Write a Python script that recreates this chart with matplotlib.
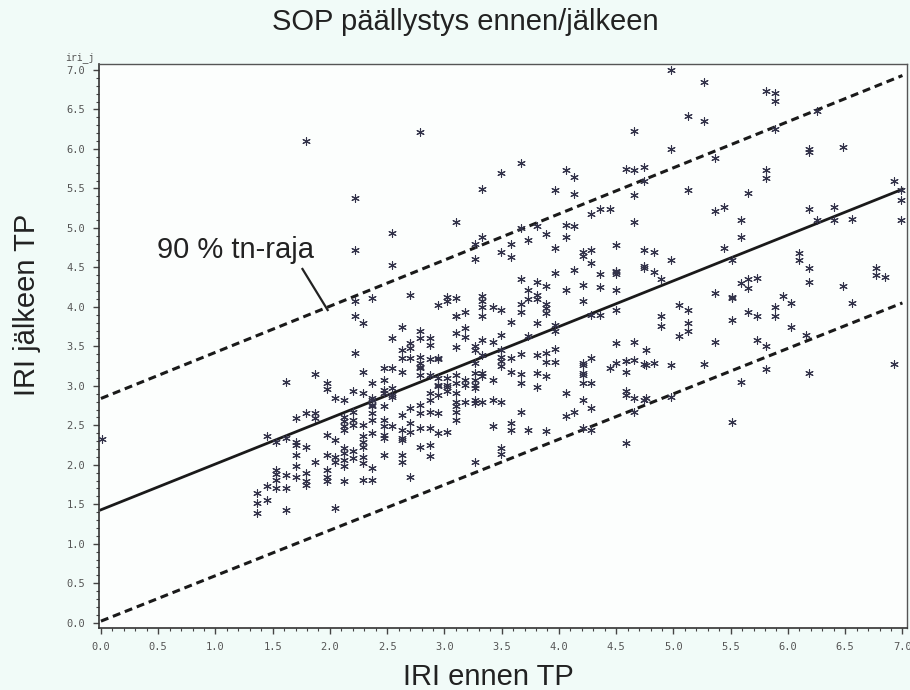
import numpy as np
import matplotlib.pyplot as plt
from matplotlib.ticker import MultipleLocator, FormatStrFormatter

# IRI before (columns of x) and the IRI after values in each column
ennen_cols = [0.01, 1.36, 1.45, 1.53, 1.62, 1.70, 1.79, 1.87, 1.97, 2.04,
              2.12, 2.20, 2.22, 2.29, 2.37, 2.47, 2.54, 2.63, 2.70, 2.79,
              2.87, 2.94, 3.02, 3.10, 3.18, 3.27, 3.33, 3.42, 3.49, 3.58,
              3.67, 3.73, 3.81, 3.89, 3.97, 4.06, 4.13, 4.21, 4.28, 4.36,
              4.45, 4.50, 4.59, 4.66, 4.74, 4.76, 4.83, 4.89, 4.98, 5.05,
              5.13, 5.27, 5.36, 5.44, 5.51, 5.59, 5.65, 5.73, 5.81, 5.89,
              5.96, 6.03, 6.10, 6.16, 6.18, 6.25, 6.40, 6.48, 6.56, 6.77,
              6.85, 6.93, 6.99]
jalkeen_cols = [
    [2.33],
    [1.64, 1.52, 1.39],
    [2.37, 1.73, 1.56],
    [1.94, 1.88, 1.81, 1.71, 2.29],
    [3.05, 2.34, 1.87, 1.71, 1.43],
    [2.59, 2.29, 2.25, 2.13, 1.99, 1.85],
    [6.10, 2.65, 2.23, 1.89, 1.79, 1.75],
    [3.15, 2.65, 2.59, 2.04],
    [3.03, 2.96, 2.38, 2.13, 1.94, 1.85, 1.79],
    [2.85, 2.32, 2.10, 2.04, 1.45],
    [2.82, 2.61, 2.55, 2.49, 2.44, 2.21, 2.15, 2.06, 1.98, 1.79],
    [2.93, 2.67, 2.57, 2.51, 2.18, 2.08],
    [5.38, 4.72, 4.07, 3.89, 3.42],
    [3.79, 3.17, 2.91, 2.51, 2.36, 2.29, 2.23, 2.10, 2.02, 1.81],
    [4.11, 3.04, 2.84, 2.82, 2.76, 2.74, 2.65, 2.57, 2.40, 1.96, 1.81],
    [3.22, 3.08, 2.95, 2.91, 2.74, 2.57, 2.49, 2.38, 2.34, 2.13],
    [4.94, 4.53, 3.60, 3.22, 2.97, 2.89, 2.86, 2.49],
    [3.74, 3.46, 3.35, 3.18, 2.63, 2.44, 2.34, 2.32, 2.13, 2.04],
    [4.15, 3.54, 3.48, 3.35, 2.72, 2.53, 2.42, 1.85],
    [6.21, 3.69, 3.60, 3.37, 3.29, 3.24, 3.22, 3.14, 2.76, 2.65, 2.46, 2.23],
    [3.60, 3.52, 3.34, 3.14, 2.91, 2.82, 2.67, 2.46, 2.25, 2.11],
    [4.03, 3.35, 3.34, 3.10, 3.01, 3.00, 2.89, 2.65, 2.40],
    [4.13, 4.07, 3.10, 3.01, 2.99, 2.93, 2.42],
    [5.07, 4.11, 3.89, 3.88, 3.67, 3.49, 3.14, 3.03, 2.91, 2.80, 2.75, 2.67, 2.57],
    [3.94, 3.73, 3.62, 3.08, 3.01, 2.79],
    [4.80, 4.61, 3.50, 3.45, 3.29, 3.16, 3.08, 3.01, 2.97, 2.82, 2.78, 2.03],
    [5.49, 4.88, 4.14, 4.07, 4.00, 3.89, 3.58, 3.39, 3.16, 3.12, 2.79],
    [4.00, 3.55, 3.08, 2.82, 2.49],
    [5.69, 4.70, 3.96, 3.64, 3.46, 3.37, 3.31, 3.25, 2.80, 2.21, 2.14],
    [4.80, 4.63, 3.81, 3.35, 3.17, 2.53, 2.44],
    [5.82, 5.00, 4.35, 4.04, 3.93, 3.40, 3.15, 3.03, 2.67],
    [4.85, 4.21, 4.10, 3.63, 2.44],
    [5.03, 4.32, 4.15, 4.10, 3.80, 3.39, 3.16, 2.98],
    [4.92, 4.26, 4.04, 3.98, 3.92, 3.41, 3.30, 3.12, 2.43],
    [5.48, 4.75, 4.43, 3.77, 3.69, 3.47, 3.30],
    [5.73, 5.04, 4.89, 4.21, 2.91, 2.62],
    [5.65, 5.43, 5.02, 4.47, 2.67],
    [4.70, 4.64, 4.28, 4.07, 3.29, 3.27, 3.16, 3.14, 3.03, 2.82, 2.46],
    [5.18, 4.72, 4.55, 3.90, 3.35, 3.03, 2.72, 2.44],
    [5.24, 4.42, 4.25, 3.90],
    [5.24, 3.22],
    [4.78, 4.45, 4.44, 4.42, 4.22, 3.96, 3.54, 3.29],
    [5.74, 3.32, 3.31, 3.18, 2.93, 2.89, 2.27],
    [6.23, 5.73, 5.42, 5.08, 3.56, 3.33, 2.85, 2.67],
    [5.77, 5.59, 4.72, 4.52, 4.49, 3.28, 2.82],
    [3.46, 3.27, 2.85],
    [4.69, 4.44, 3.29],
    [4.35, 3.89, 3.76],
    [7.00, 6.00, 4.59, 3.27, 2.86],
    [4.03, 3.63],
    [6.42, 5.48, 3.96, 3.80, 3.69],
    [6.85, 6.35, 3.28],
    [5.89, 5.21, 4.18, 3.56],
    [5.27, 4.74],
    [4.59, 4.13, 4.11, 3.84, 2.54],
    [5.10, 4.89, 4.30, 3.05],
    [5.44, 4.35, 4.24, 3.93],
    [4.36, 3.89, 3.58],
    [6.74, 5.73, 5.63, 3.51, 3.21],
    [6.71, 6.61, 6.25, 4.00, 3.89],
    [4.14],
    [4.05, 3.74],
    [4.68, 4.59],
    [3.65],
    [6.00, 5.96, 5.24, 4.49, 4.31, 3.16],
    [6.48, 5.10],
    [5.26, 5.10],
    [6.03, 4.27],
    [5.11, 4.05],
    [4.49, 4.41],
    [4.38],
    [5.59, 3.28],
    [5.48, 5.35, 5.10],
]

# regression line and 90 % limits
line_x = [0.0, 7.0]
fit_y = [1.43, 5.49]
upper_y = [2.84, 6.93]
lower_y = [0.02, 4.05]

iri_ennen = np.concatenate([[x] * len(ys) for x, ys in zip(ennen_cols, jalkeen_cols)])
iri_jalkeen = np.concatenate(jalkeen_cols)

fig = plt.figure(figsize=(9.1, 6.9), dpi=100, facecolor='#f1fbf8')
ax = fig.add_axes([99 / 910, 1 - 628 / 690, 808 / 910, 564 / 690])
ax.set_facecolor('#fcfefd')

ax.scatter(iri_ennen, iri_jalkeen, marker=(6, 2, 0), s=30, linewidths=0.8,
           color='#33334a', zorder=3)
ax.plot(line_x, fit_y, color='#1a1a1a', lw=2.0, zorder=2)
ax.plot(line_x, upper_y, color='#1a1a1a', lw=2.2, ls=(0, (2.6, 1.6)), zorder=2)
ax.plot(line_x, lower_y, color='#1a1a1a', lw=2.2, ls=(0, (2.6, 1.6)), zorder=2)

ax.annotate('90 % tn-raja', xy=(1.98, 3.96), xytext=(0.49, 4.62),
            fontsize=21, family='Liberation Sans', color='#222222',
            ha='left', va='baseline')
ax.plot([1.76, 1.98], [4.48, 3.96], color='#222222', lw=1.6, zorder=2)

ax.set_xlim(-0.017, 7.04)
ax.set_ylim(-0.067, 7.076)
ax.xaxis.set_major_locator(MultipleLocator(0.5))
ax.xaxis.set_minor_locator(MultipleLocator(0.1))
ax.yaxis.set_major_locator(MultipleLocator(0.5))
ax.yaxis.set_minor_locator(MultipleLocator(0.1))
ax.xaxis.set_major_formatter(FormatStrFormatter('%.1f'))
ax.yaxis.set_major_formatter(FormatStrFormatter('%.1f'))
ax.tick_params(which='major', direction='out', length=4, width=1, color='#444444',
               labelsize=7.5, labelcolor='#555555', pad=6)
ax.tick_params(which='minor', direction='out', length=2.5, width=0.8, color='#444444')
for lab in ax.get_xticklabels() + ax.get_yticklabels():
    lab.set_family('DejaVu Sans Mono')

for side in ['left', 'bottom']:
    ax.spines[side].set_color('#333333')
    ax.spines[side].set_linewidth(1.2)
for side in ['top', 'right']:
    ax.spines[side].set_color('#555555')
    ax.spines[side].set_linewidth(1.0)

ax.text(-0.005, 1.002, 'iri_j', transform=ax.transAxes, ha='right', va='bottom',
        fontsize=7, family='DejaVu Sans Mono', color='#555555')

fig.text(465 / 910, 1 - 22 / 690, 'SOP päällystys ennen/jälkeen', ha='center',
         va='center', fontsize=21, family='Liberation Sans', color='#222222')
fig.text(488 / 910, 5 / 690, 'IRI ennen TP', ha='center', va='baseline',
         fontsize=21, family='Liberation Sans', color='#222222')
fig.text(27 / 910, 1 - 305 / 690, 'IRI jälkeen TP', ha='center', va='center',
         rotation=90, fontsize=21, family='Liberation Sans', color='#222222')

fig.savefig('out.png', dpi=100, facecolor=fig.get_facecolor())
